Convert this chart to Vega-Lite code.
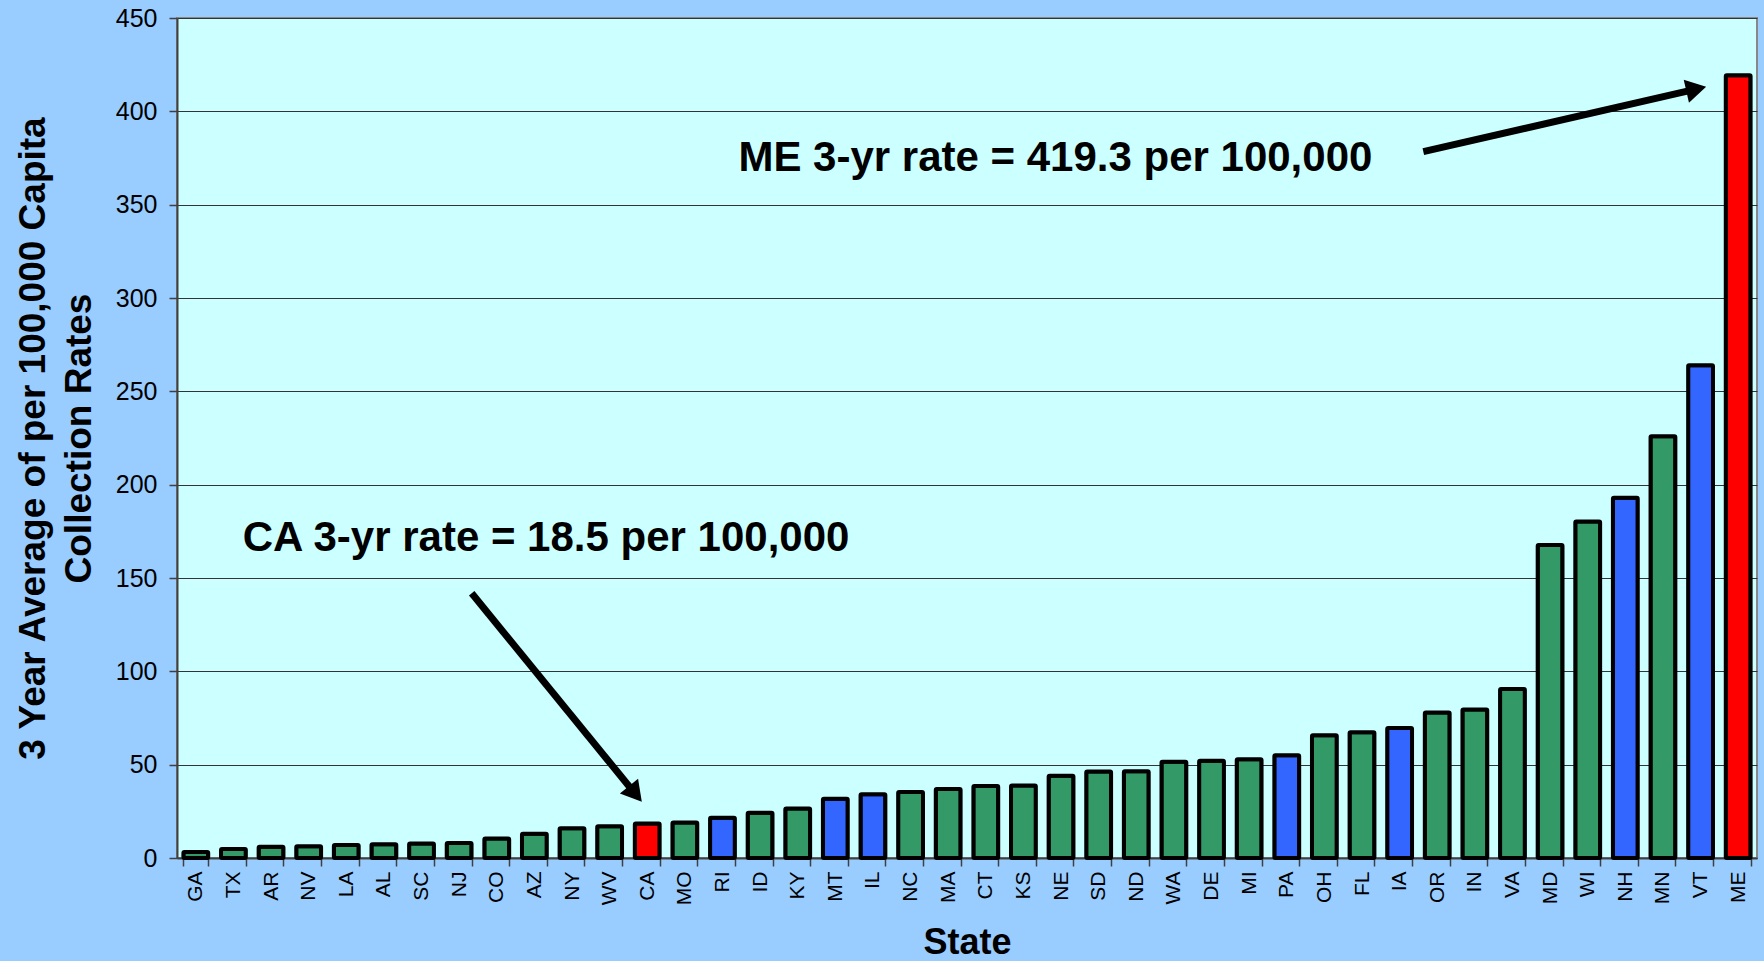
{
  "$schema": "https://vega.github.io/schema/vega-lite/v6.json",
  "width": 1580,
  "height": 840,
  "autosize": {"type": "none"},
  "padding": {"left": 177, "top": 18, "right": 7, "bottom": 103},
  "background": "#99CCFF",
  "config": {
    "font": "Liberation Sans",
    "view": {"fill": "#CCFFFF", "stroke": "#888888", "strokeWidth": 2},
    "axis": {
      "labelFont": "Liberation Sans",
      "titleFont": "Liberation Sans",
      "labelColor": "#000000",
      "titleColor": "#000000",
      "domainColor": "#404040",
      "domainWidth": 2,
      "tickColor": "#404040",
      "tickWidth": 1.5
    }
  },
  "datasets": {
    "rates": [
      {"state": "GA", "rate": 3.2, "group": "other"},
      {"state": "TX", "rate": 4.8, "group": "other"},
      {"state": "AR", "rate": 6.0, "group": "other"},
      {"state": "NV", "rate": 6.3, "group": "other"},
      {"state": "LA", "rate": 7.0, "group": "other"},
      {"state": "AL", "rate": 7.4, "group": "other"},
      {"state": "SC", "rate": 7.8, "group": "other"},
      {"state": "NJ", "rate": 8.0, "group": "other"},
      {"state": "CO", "rate": 10.4, "group": "other"},
      {"state": "AZ", "rate": 13.0, "group": "other"},
      {"state": "NY", "rate": 16.0, "group": "other"},
      {"state": "WV", "rate": 17.0, "group": "other"},
      {"state": "CA", "rate": 18.5, "group": "highlight"},
      {"state": "MO", "rate": 19.0, "group": "other"},
      {"state": "RI", "rate": 21.6, "group": "blue"},
      {"state": "ID", "rate": 24.3, "group": "other"},
      {"state": "KY", "rate": 26.5, "group": "other"},
      {"state": "MT", "rate": 31.8, "group": "blue"},
      {"state": "IL", "rate": 34.1, "group": "blue"},
      {"state": "NC", "rate": 35.3, "group": "other"},
      {"state": "MA", "rate": 37.0, "group": "other"},
      {"state": "CT", "rate": 38.6, "group": "other"},
      {"state": "KS", "rate": 38.8, "group": "other"},
      {"state": "NE", "rate": 44.1, "group": "other"},
      {"state": "SD", "rate": 46.3, "group": "other"},
      {"state": "ND", "rate": 46.5, "group": "other"},
      {"state": "WA", "rate": 51.6, "group": "other"},
      {"state": "DE", "rate": 52.1, "group": "other"},
      {"state": "MI", "rate": 52.9, "group": "other"},
      {"state": "PA", "rate": 55.0, "group": "blue"},
      {"state": "OH", "rate": 65.7, "group": "other"},
      {"state": "FL", "rate": 67.3, "group": "other"},
      {"state": "IA", "rate": 69.6, "group": "blue"},
      {"state": "OR", "rate": 78.0, "group": "other"},
      {"state": "IN", "rate": 79.5, "group": "other"},
      {"state": "VA", "rate": 90.5, "group": "other"},
      {"state": "MD", "rate": 167.7, "group": "other"},
      {"state": "WI", "rate": 180.3, "group": "other"},
      {"state": "NH", "rate": 193.0, "group": "blue"},
      {"state": "MN", "rate": 226.0, "group": "other"},
      {"state": "VT", "rate": 264.0, "group": "blue"},
      {"state": "ME", "rate": 419.3, "group": "highlight"}
    ],
    "labels": [
      {"pos": 9.81, "value": 164.5, "label": "CA 3-yr rate = 18.5 per 100,000"},
      {"pos": 23.35, "value": 367.8, "label": "ME 3-yr rate = 419.3 per 100,000"}
    ],
    "shafts": [
      {"pos": 7.834, "value": 141.8, "pos2": 12.05, "value2": 37.63},
      {"pos": 33.13, "value": 378.4, "pos2": 40.178, "value2": 411.0}
    ],
    "heads": [
      {"pos": 12.185, "value": 34.31, "angle": 140.8},
      {"pos": 40.385, "value": 412.0, "angle": 77.1}
    ]
  },
  "layer": [
    {
      "data": {"name": "rates"},
      "mark": {"type": "bar", "stroke": "#000000", "strokeWidth": 4, "strokeJoin": "round", "cornerRadius": 1},
      "encoding": {
        "x": {
          "field": "state",
          "type": "nominal",
          "sort": null,
          "scale": {"paddingInner": 0.34, "paddingOuter": 0.17},
          "axis": {
            "title": "State",
            "titleFontSize": 36,
            "titleFontWeight": "bold",
            "titlePadding": 21,
            "labelAngle": -90,
            "labelFontSize": 21,
            "labelPadding": 5,
            "tickSize": 8,
            "tickBand": "extent",
            "grid": false
          }
        },
        "y": {
          "field": "rate",
          "type": "quantitative",
          "scale": {"domain": [0, 450], "nice": false},
          "axis": {
            "title": ["3 Year Average of per 100,000 Capita", "Collection Rates"],
            "titleFontSize": 37,
            "titleFontWeight": "bold",
            "titleLineHeight": 46,
            "titlePadding": 17,
            "values": [0, 50, 100, 150, 200, 250, 300, 350, 400, 450],
            "labelFontSize": 25,
            "labelPadding": 12,
            "tickSize": 8,
            "grid": true,
            "gridColor": "#333333",
            "gridWidth": 1.2
          }
        },
        "fill": {
          "field": "group",
          "type": "nominal",
          "scale": {"domain": ["other", "blue", "highlight"], "range": ["#339966", "#3366FF", "#FF0000"]},
          "legend": null
        }
      }
    },
    {
      "data": {"name": "shafts"},
      "mark": {"type": "rule", "color": "#000000", "strokeWidth": 7, "strokeCap": "butt"},
      "encoding": {
        "x": {"field": "pos", "type": "quantitative", "scale": {"domain": [0, 42], "nice": false, "zero": false}, "axis": null},
        "x2": {"field": "pos2"},
        "y": {"field": "value", "type": "quantitative"},
        "y2": {"field": "value2"}
      }
    },
    {
      "data": {"name": "heads"},
      "mark": {"type": "point", "shape": "triangle-up", "filled": true, "color": "#000000", "opacity": 1, "size": 550},
      "encoding": {
        "x": {"field": "pos", "type": "quantitative", "scale": {"domain": [0, 42], "nice": false, "zero": false}, "axis": null},
        "y": {"field": "value", "type": "quantitative"},
        "angle": {"field": "angle", "type": "quantitative", "scale": null}
      }
    },
    {
      "data": {"name": "labels"},
      "mark": {"type": "text", "font": "Liberation Sans", "fontWeight": "bold", "fontSize": 42, "align": "center", "baseline": "alphabetic", "color": "#000000"},
      "encoding": {
        "x": {"field": "pos", "type": "quantitative", "scale": {"domain": [0, 42], "nice": false, "zero": false}, "axis": null},
        "y": {"field": "value", "type": "quantitative"},
        "text": {"field": "label", "type": "nominal"}
      }
    }
  ],
  "resolve": {"scale": {"x": "independent"}}
}
